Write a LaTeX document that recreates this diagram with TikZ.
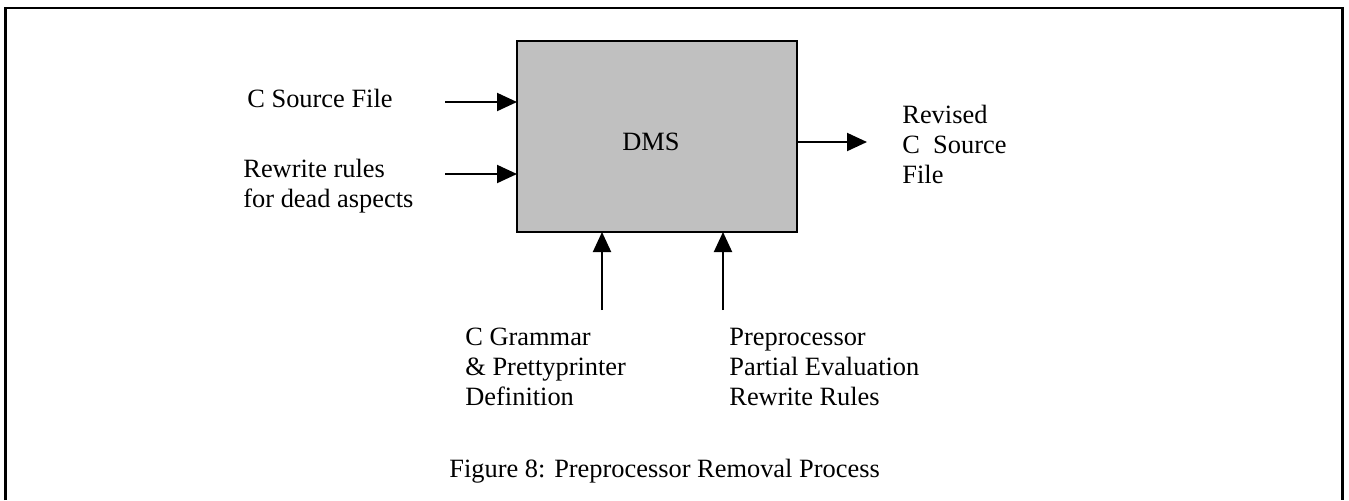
\documentclass[tikz,border=0pt]{standalone}
\usepackage{fontspec}
\setmainfont{Liberation Serif}
\usetikzlibrary{arrows.meta}
\definecolor{boxgray}{HTML}{C0C0C0}
\tikzset{
    lbl/.style={anchor=base west,inner sep=0pt,align=left,font=\fontsize{13.2}{15}\selectfont},
    dmsbox/.style={draw,line width=1pt,fill=boxgray,minimum width=140pt,minimum height=95.5pt,inner sep=0pt,outer sep=0pt},
    flow/.style={line width=1pt,-{Triangle[length=10pt,width=9pt]}}
}
\begin{document}
\begin{tikzpicture}[x=0.5pt,y=-0.5pt]
        \useasboundingbox (0,0) rectangle (1349,500);
        % frame
        \draw [line width=1.4pt] (5.5,500) -- (5.5,8) -- (1342.5,8) -- (1342.5,500);
        \node [dmsbox] (dms) at (657,136.5) {};
        \node [lbl] (dmslabel) at (622,150) {DMS};
        % inputs (multi-line labels sit on their last baseline)
        \node [lbl] (srcfile) at (247,107) {C Source File};
        \node [lbl] (rules) at (243,207) {Rewrite rules\\for dead aspects};
        \node [lbl] (grammar) at (465,405) {C Grammar\\\& Prettyprinter\\Definition};
        \node [lbl] (ppeval) at (729,405) {Preprocessor\\Partial Evaluation\\Rewrite Rules};
        % output
        \node [lbl] (revised) at (902,183) {Revised\\C\ \ Source\\File};
        \node [lbl] (caption) at (449,477) {Figure 8: Preprocessor Removal Process};
        \coordinate (srcin) at (445,102);
        \coordinate (rulesin) at (445,174);
        \coordinate (gramin) at (602,310);
        \coordinate (ppin) at (723,310);
        \coordinate (outend) at (867,142);
        \draw [flow] (srcin) -- (srcin -| dms.west);
        \draw [flow] (rulesin) -- (rulesin -| dms.west);
        \draw [flow] (gramin) -- (gramin |- dms.south);
        \draw [flow] (ppin) -- (ppin |- dms.south);
        \draw [flow] (outend -| dms.east) -- (outend);
    \end{tikzpicture}
\end{document}
